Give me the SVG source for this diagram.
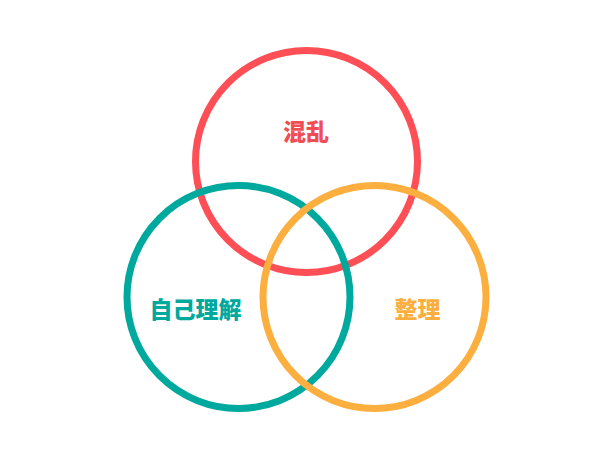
<svg xmlns="http://www.w3.org/2000/svg" width="614" height="461" viewBox="0 0 614 461">
<style>
.ring{fill:none;stroke-width:7}
.lbl{font-family:"Noto Sans CJK SC","Noto Sans CJK JP",sans-serif;font-weight:900;font-size:23px;text-anchor:middle;dominant-baseline:central}
</style>
<rect width="614" height="461" fill="#ffffff"/>
<g id="node-red">
<circle class="ring" cx="306.5" cy="161.5" r="111" stroke="#FF4F56"/>
<text class="lbl" x="306" y="130" fill="#F04E55">混乱</text>
</g>
<g id="node-teal">
<circle class="ring" cx="238.5" cy="297" r="111.5" stroke="#00A99D"/>
<text class="lbl" x="195.5" y="308" fill="#00A99D">自己理解</text>
</g>
<g id="node-orange">
<circle class="ring" cx="374.5" cy="297" r="111.5" stroke="#FCAF3E"/>
<text class="lbl" x="417.5" y="308" fill="#FCAF3E">整理</text>
</g>
<g id="connectors"></g>
</svg>
